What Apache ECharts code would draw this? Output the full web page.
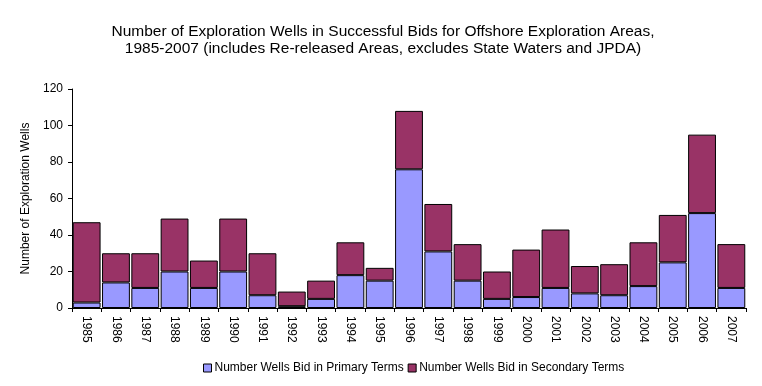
<!DOCTYPE html>
<html>
<head>
<meta charset="utf-8">
<script src="https://cdn.jsdelivr.net/npm/echarts@6/dist/echarts.min.js"></script>
<style>
  html, body { margin: 0; padding: 0; background: #fff; }
  #chart { width: 762px; height: 386px; }
</style>
</head>
<body>
<div id="chart"></div>
<script>
// data
var years = ['1985', '1986', '1987', '1988', '1989', '1990', '1991', '1992', '1993', '1994', '1995', '1996',
  '1997', '1998', '1999', '2000', '2001', '2002', '2003', '2004', '2005', '2006', '2007']
var primaryWells = [3, 14, 11, 20, 11, 20, 7, 1, 5, 18, 15, 76, 31, 15, 5, 6, 11, 8, 7, 12, 25, 52, 11]
var secondaryWells = [44, 16, 19, 29, 15, 29, 23, 8, 10, 18, 7, 32, 26, 20, 15, 26, 32, 15, 17, 24, 26, 43, 24]
var yTicks = [0, 20, 40, 60, 80, 100, 120]

var font = 'Liberation Sans, Arial, sans-serif'

var chart = echarts.init(document.getElementById('chart'))
chart.setOption({
  animation: false,
  title: {
    text: 'Number of Exploration Wells in Successful Bids for Offshore Exploration Areas,\n1985-2007 (includes Re-released Areas, excludes State Waters and JPDA)',
    left: 378,
    textAlign: 'center',
    top: 18,
    textStyle: { fontFamily: font, fontSize: 15.5, fontWeight: 'normal', color: '#000', lineHeight: 17 }
  },
  legend: {
    bottom: 7,
    left: 198,
    itemWidth: 8,
    itemHeight: 8,
    itemGap: 4,
    icon: 'rect',
    textStyle: { fontFamily: font, fontSize: 12, color: '#000', padding: [0, 0, 0, -2] },
    itemStyle: { borderColor: '#000', borderWidth: 1 },
    data: ['Number Wells Bid in Primary Terms', 'Number Wells Bid in Secondary Terms']
  },
  grid: { left: 72, right: 16, top: 89, bottom: 78 },
  xAxis: {
    type: 'category',
    data: years,
    axisLine: { lineStyle: { color: '#000', width: 1 } },
    axisTick: { show: true, length: 4, lineStyle: { color: '#000' } },
    axisLabel: { rotate: -90, fontFamily: font, fontSize: 12, color: '#000', margin: 8, interval: 0 }
  },
  yAxis: {
    type: 'value',
    min: yTicks[0],
    max: yTicks[yTicks.length - 1],
    interval: 20,
    name: 'Number of Exploration Wells',
    nameLocation: 'middle',
    nameGap: 37,
    nameTextStyle: { fontFamily: font, fontSize: 12, color: '#000' },
    axisLine: { show: true, lineStyle: { color: '#000', width: 1 } },
    axisTick: { show: true, length: 4, lineStyle: { color: '#000' } },
    axisLabel: { fontFamily: font, fontSize: 12, color: '#000', margin: 9 },
    splitLine: { show: false }
  },
  series: [{
    name: 'Number Wells Bid in Primary Terms',
    type: 'bar',
    stack: 'wells',
    barCategoryGap: '5%',
    itemStyle: { color: '#9999FF', borderColor: '#000', borderWidth: 1 },
    data: primaryWells
  }, {
    name: 'Number Wells Bid in Secondary Terms',
    type: 'bar',
    stack: 'wells',
    barCategoryGap: '5%',
    itemStyle: { color: '#993366', borderColor: '#000', borderWidth: 1 },
    data: secondaryWells
  }]
})
</script>
</body>
</html>
